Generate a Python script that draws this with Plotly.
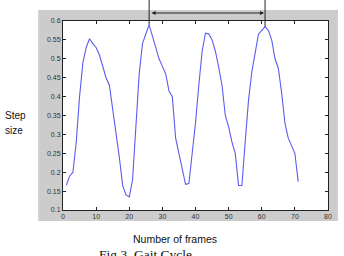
import plotly.graph_objects as go

frames = list(range(1, 72))
step_size = [
    0.165, 0.19, 0.20, 0.28, 0.40, 0.49, 0.53, 0.553, 0.54, 0.53,
    0.51, 0.48, 0.45, 0.43, 0.37, 0.30, 0.24, 0.165, 0.14, 0.135,
    0.18, 0.32, 0.46, 0.54, 0.565, 0.59, 0.56, 0.53, 0.50, 0.48,
    0.46, 0.415, 0.40, 0.29, 0.25, 0.21, 0.168, 0.17, 0.25, 0.33,
    0.43, 0.52, 0.568, 0.566, 0.55, 0.52, 0.478, 0.43, 0.35, 0.32,
    0.28, 0.25, 0.165, 0.165, 0.28, 0.39, 0.465, 0.52, 0.565, 0.575,
    0.585, 0.575, 0.55, 0.50, 0.475, 0.41, 0.33, 0.29, 0.27, 0.25,
    0.175,
]
cycle_marks = [26, 61]
x_ticks = [0, 10, 20, 30, 40, 50, 60, 70, 80]
y_ticks = [0.1, 0.15, 0.2, 0.25, 0.3, 0.35, 0.4, 0.45, 0.5, 0.55, 0.6]
x_range = [0, 80]
y_range = [0.1, 0.6]

W, H = 344, 256
L, R, T, B = 63, 14, 21, 46
pw, ph = W - L - R, H - T - B


def px_x(px):
    return (px - L) / pw


def px_y(py):
    return (H - B - py) / ph


def data_y_to_paper(v):
    return (v - y_range[0]) / (y_range[1] - y_range[0])


fig = go.Figure()
fig.add_trace(go.Scatter(x=frames, y=step_size, mode="lines",
                         line=dict(color="#5c5cf0", width=1.1),
                         hoverinfo="skip", showlegend=False))

shapes = [
    dict(type="rect", xref="paper", yref="paper",
         x0=px_x(38), x1=px_x(340), y0=px_y(221), y1=px_y(10),
         fillcolor="#cccccc", line=dict(width=0), layer="below"),
    dict(type="rect", xref="paper", yref="paper",
         x0=0, x1=1, y0=0, y1=1,
         fillcolor="white", line=dict(width=0), layer="below"),
]
for f in cycle_marks:
    v = step_size[frames.index(f)]
    shapes.append(dict(type="line", xref="x", yref="paper",
                       x0=f, x1=f, y0=data_y_to_paper(v), y1=px_y(0),
                       line=dict(color="#222222", width=1)))

annotations = [
    dict(x=cycle_marks[1], y=px_y(13), xref="x", yref="paper",
         ax=cycle_marks[0], ay=0, axref="x", ayref="pixel",
         showarrow=True, arrowhead=2, arrowside="end+start",
         arrowsize=0.8, arrowwidth=1, arrowcolor="#222222",
         standoff=1, startstandoff=1, text=""),
    dict(x=px_x(3), y=px_y(115), xref="paper", yref="paper",
         xanchor="left", yanchor="middle", showarrow=False, text="Step",
         font=dict(family="Arial, Liberation Sans", size=10, color="#111111")),
    dict(x=px_x(3), y=px_y(130), xref="paper", yref="paper",
         xanchor="left", yanchor="middle", showarrow=False, text="size",
         font=dict(family="Arial, Liberation Sans", size=10, color="#111111")),
    dict(x=px_x(176), y=px_y(239), xref="paper", yref="paper",
         xanchor="center", yanchor="middle", showarrow=False,
         text="Number of frames",
         font=dict(family="Arial, Liberation Sans", size=10.5, color="#111111")),
    dict(x=px_x(146), y=px_y(245), xref="paper", yref="paper",
         xanchor="center", yanchor="top", showarrow=False,
         text="Fig 3. Gait Cycle",
         font=dict(family="Times New Roman, Liberation Serif", size=13.5,
                   color="#111111")),
]

axis_common = dict(showline=True, linecolor="#222222", linewidth=1,
                   mirror="ticks", ticks="inside", ticklen=3,
                   tickcolor="#222222", showgrid=False, zeroline=False,
                   tickfont=dict(family="Arial, Liberation Sans", size=7,
                                 color="#333333"))

fig.update_layout(
    width=W, height=H,
    margin=dict(l=L, r=R, t=T, b=B, pad=0),
    paper_bgcolor="white", plot_bgcolor="rgba(0,0,0,0)",
    shapes=shapes, annotations=annotations,
    xaxis=dict(range=x_range, tickvals=x_ticks, **axis_common),
    yaxis=dict(range=y_range, tickvals=y_ticks,
               ticktext=[f"{v:g}" for v in y_ticks], **axis_common),
)

fig.write_html("out.html")
